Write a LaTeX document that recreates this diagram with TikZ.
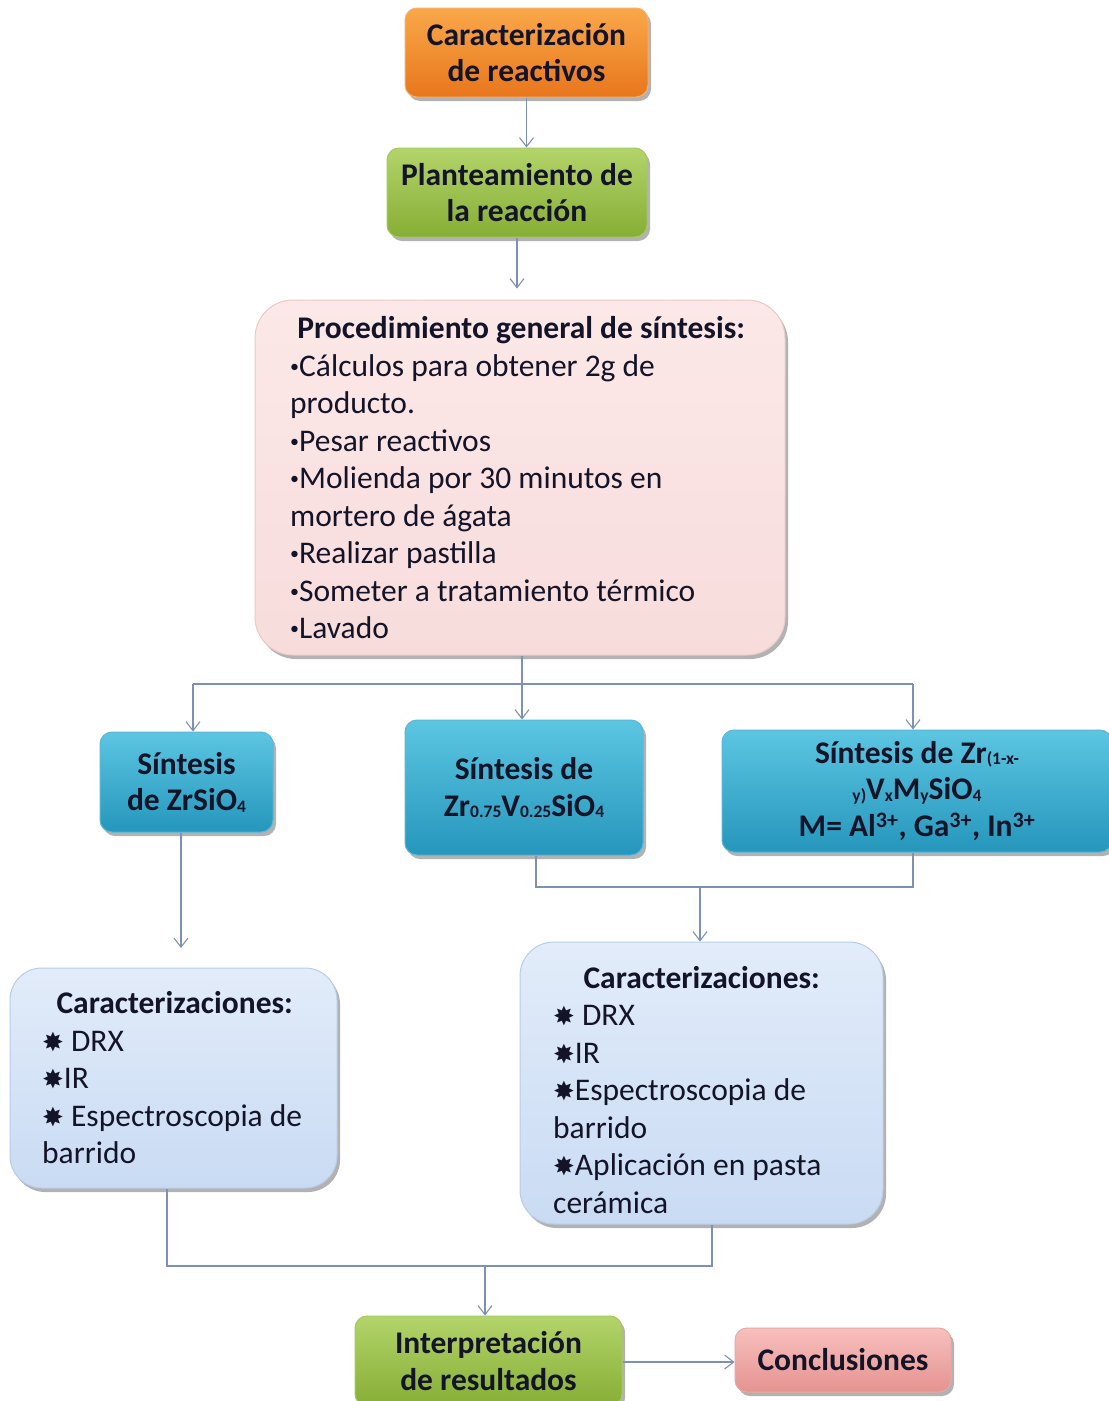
\documentclass[tikz,border=0pt]{standalone}
\usepackage{fontspec}
\setmainfont{Carlito}
\newfontfamily\symfont{DejaVu Sans}
\usetikzlibrary{arrows.meta,shadows}
\definecolor{orA}{HTML}{F9A84A}
\definecolor{orB}{HTML}{E8761C}
\definecolor{orD}{HTML}{F3B26A}
\definecolor{grA}{HTML}{B3D46A}
\definecolor{grB}{HTML}{86AE35}
\definecolor{grD}{HTML}{A8C860}
\definecolor{pkA}{HTML}{FCE8E8}
\definecolor{pkB}{HTML}{F8DCDC}
\definecolor{pkD}{HTML}{E8CACA}
\definecolor{tlA}{HTML}{5CC6E2}
\definecolor{tlB}{HTML}{2596BC}
\definecolor{tlD}{HTML}{5AB8D5}
\definecolor{lbA}{HTML}{E2ECFA}
\definecolor{lbB}{HTML}{C9DBF3}
\definecolor{lbD}{HTML}{B8CCE8}
\definecolor{cnA}{HTML}{F7C0BE}
\definecolor{cnB}{HTML}{E49390}
\definecolor{cnD}{HTML}{E8A8A6}
\definecolor{ln}{HTML}{7D92B2}
\definecolor{txt}{HTML}{141428}
\newcommand\lsub[1]{\raisebox{-1.5pt}{\fontsize{17.5}{17.5}\selectfont #1}}
\newcommand\starm{\raisebox{0pt}{\symfont\fontsize{26}{26}\selectfont ✸}}
\newcommand\bul{\raisebox{4pt}{\fontsize{18}{18}\selectfont •}}
\begin{document}
\begin{tikzpicture}[x=1pt,y=-1pt,
  shad/.style={drop shadow={shadow xshift=3pt,shadow yshift=-4pt,opacity=0.3,fill=black}},
  box/.style={shad, rounded corners=12pt, inner sep=0pt, align=center, line width=1pt,
    font=\bfseries\fontsize{31.5}{36.5}\selectfont, text=txt},
  orbox/.style={box, top color=orA, bottom color=orB, draw=orD},
  grbox/.style={box, top color=grA, bottom color=grB, draw=grD},
  tlbox/.style={box, top color=tlA, bottom color=tlB, draw=tlD},
  cnbox/.style={box, top color=cnA, bottom color=cnB, draw=cnD},
  bigbox/.style={shad, rounded corners=38pt, line width=1pt},
  list/.style={inner sep=0pt, align=left, anchor=west, text=txt,
    font=\fontsize{31.5}{37.5}\selectfont},
  arr/.style={draw=ln, line width=1.1pt, -{Straight Barb[length=9pt,width=14pt,line width=1.1pt]}},
  con/.style={draw=ln, line width=1.1pt}
]
\fill[white] (0,0) rectangle (1109,1401);
\useasboundingbox (0,0) rectangle (1109,1401);

% top boxes
\node[orbox, minimum width=243pt, minimum height=89pt] (car) at (526.5,52.5) {Caracterización\\de reactivos};
\node[grbox, minimum width=260pt, minimum height=89pt] (plan) at (517,192.5) {Planteamiento de\\la reacción};

% procedure box
\node[bigbox, top color=pkA, bottom color=pkB, draw=pkD, minimum width=530pt, minimum height=355pt] (proc) at (520,477.5) {};
\node[list] (proct) at (290,478) {\makebox[462pt][c]{\textbf{Procedimiento general de síntesis:}}\\
\bul Cálculos para obtener 2g de\\
producto.\\
\bul Pesar reactivos\\
\bul Molienda por 30 minutos en\\
mortero de ágata\\
\bul Realizar pastilla\\
\bul Someter a tratamiento térmico\\
\bul Lavado};

% synthesis boxes
\node[tlbox, minimum width=173pt, minimum height=100pt] (s1) at (186.5,782) {Síntesis\\de ZrSiO\lsub{4}};
\node[tlbox, minimum width=238pt, minimum height=135pt] (s2) at (524,787.5) {Síntesis de\\Zr\lsub{0.75}V\lsub{0.25}SiO\lsub{4}};
\node[tlbox, minimum width=390pt, minimum height=122pt] (s3) at (917,791) {Síntesis de Zr\lsub{(1-x-}\\\lsub{y)}V\lsub{x}M\lsub{y}SiO\lsub{4}\\M= Al\textsuperscript{3+}, Ga\textsuperscript{3+}, In\textsuperscript{3+}};

% characterization boxes
\node[bigbox, top color=lbA, bottom color=lbB, draw=lbD, rounded corners=32pt, minimum width=327pt, minimum height=220pt] (c1) at (173.5,1078) {};
\node[list] (c1t) at (42,1078) {\makebox[265pt][c]{\textbf{Caracterizaciones:}}\\
\starm\ DRX\\
\starm IR\\
\starm\ Espectroscopia de\\
barrido};
\node[bigbox, top color=lbA, bottom color=lbB, draw=lbD, rounded corners=34pt, minimum width=363pt, minimum height=282pt] (c2) at (701.5,1083) {};
\node[list] (c2t) at (553,1090) {\makebox[297pt][c]{\textbf{Caracterizaciones:}}\\
\starm\ DRX\\
\starm IR\\
\starm Espectroscopia de\\
barrido\\
\starm Aplicación en pasta\\
cerámica};

% bottom boxes
\node[grbox, minimum width=267pt, minimum height=90pt] (interp) at (488.5,1361) {Interpretación\\de resultados};
\node[cnbox, minimum width=216pt, minimum height=64pt] (concl) at (843,1360) {Conclusiones};

% junction coordinates
\coordinate (j1) at (522,684);
\coordinate (jL) at (193,684);
\coordinate (jR) at (913,684);
\coordinate (j2a) at (536,887);
\coordinate (j2b) at (913,887);
\coordinate (j2) at (700,887);
\coordinate (j3a) at (167,1266);
\coordinate (j3b) at (712,1266);
\coordinate (j3) at (485,1266);

% connectors
\draw[arr] (car.south) -- (car.south |- plan.north);
\draw[arr] (plan.south) -- ++(0,51);
\draw[arr] (proc.south -| j1) -- (j1 |- s2.north);
\draw[con] (jL) -- (jR);
\draw[arr] (jL) -- (jL |- s1.north);
\draw[arr] (jR) -- (jR |- s3.north);
\draw[arr] (s1.south -| 181,0) -- (181,948);
\draw[con] (s2.south -| j2a) -- (j2a) -- (j2b) -- (s3.south -| j2b);
\draw[arr] (j2) -- (j2 |- c2.north);
\draw[con] (c1.south -| j3a) -- (j3a) -- (j3b) -- (c2.south -| j3b);
\draw[arr] (j3) -- (j3 |- interp.north);
\draw[arr] (interp.east |- 0,1362) -- (concl.west |- 0,1362);
\end{tikzpicture}
\end{document}
